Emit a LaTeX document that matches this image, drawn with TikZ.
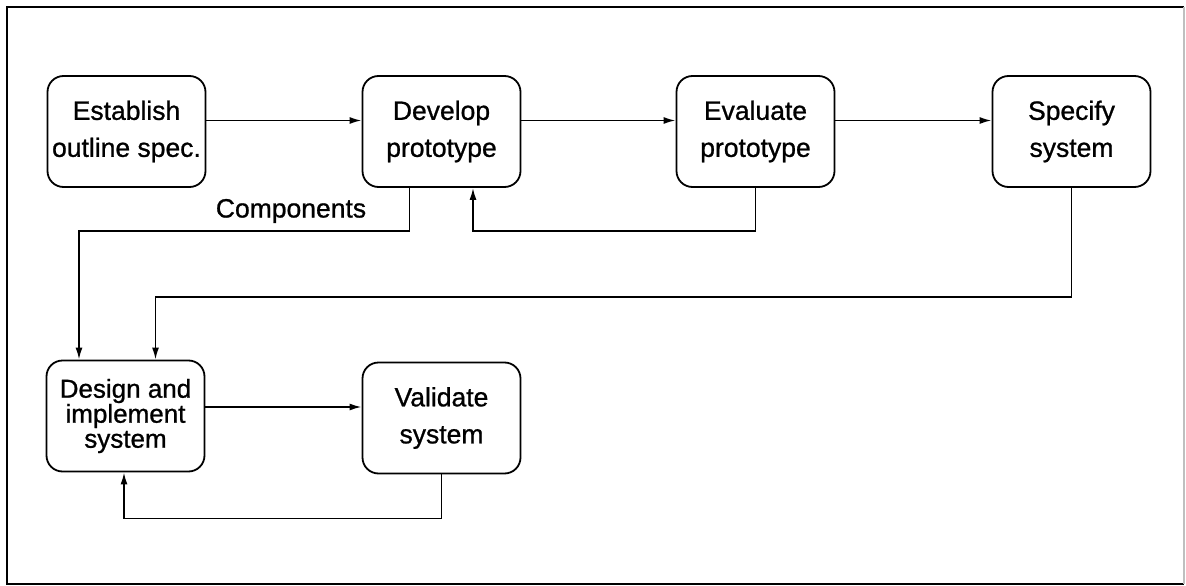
\documentclass[tikz,border=0pt]{standalone}
\usepackage{fontspec}
\setmainfont[FakeBold=0.9]{Liberation Sans}
\usetikzlibrary{arrows.meta}
\begin{document}
\begin{tikzpicture}[x=1pt,y=-1pt,
  procbox/.style={draw, line width=1.8pt, rounded corners=16pt, minimum width=158pt, minimum height=111pt,
    align=center, inner sep=0pt, font=\fontsize{26.5}{37}\selectfont},
  arr/.style={line width=1.7pt, -{Latex[length=12pt,width=7pt]}},
  lbl/.style={font=\fontsize{26.5}{30}\selectfont, inner sep=0pt}]
\useasboundingbox (0,0) rectangle (1186,586);
\draw[line width=2.4pt] (1184,7) -- (7,7) -- (7,584) -- (1184,584);
\draw[line width=1.2pt, black!25] (1184,7) -- (1184,584);

\node[procbox] (est) at (126.5,131.5) {Establish\\outline spec.};
\node[procbox] (dev) at (441.5,131.5) {Develop\\prototype};
\node[procbox] (eva) at (755.5,131.5) {Evaluate\\prototype};
\node[procbox] (spe) at (1071.5,131.5) {Specify\\system};
\node[procbox, font=\fontsize{26}{25}\selectfont] (des) at (125.5,416) {Design and\\implement\\system};
\node[procbox] (val) at (441.5,418) {Validate\\system};
\node[lbl] (comp) at (291,211) {Components};

\draw[arr] ([yshift=11pt]est.east) -- ([yshift=11pt]dev.west);
\draw[arr] ([yshift=11pt]dev.east) -- ([yshift=11pt]eva.west);
\draw[arr] ([yshift=11pt]eva.east) -- ([yshift=11pt]spe.west);
\draw[arr] ([xshift=-32pt]dev.south) -- ++(0,43) -| ([xshift=-46.5pt]des.north);
\draw[arr] (eva.south) -- ++(0,43) -| ([xshift=31.5pt]dev.south);
\draw[arr] (spe.south) -- ++(0,109) -| ([xshift=30pt]des.north);
\draw[arr] ([yshift=9pt]des.east) -- ([yshift=11pt]val.west);
\draw[arr] (val.south) -- ++(0,44) -| ([xshift=-1.5pt]des.south);
\end{tikzpicture}
\end{document}
